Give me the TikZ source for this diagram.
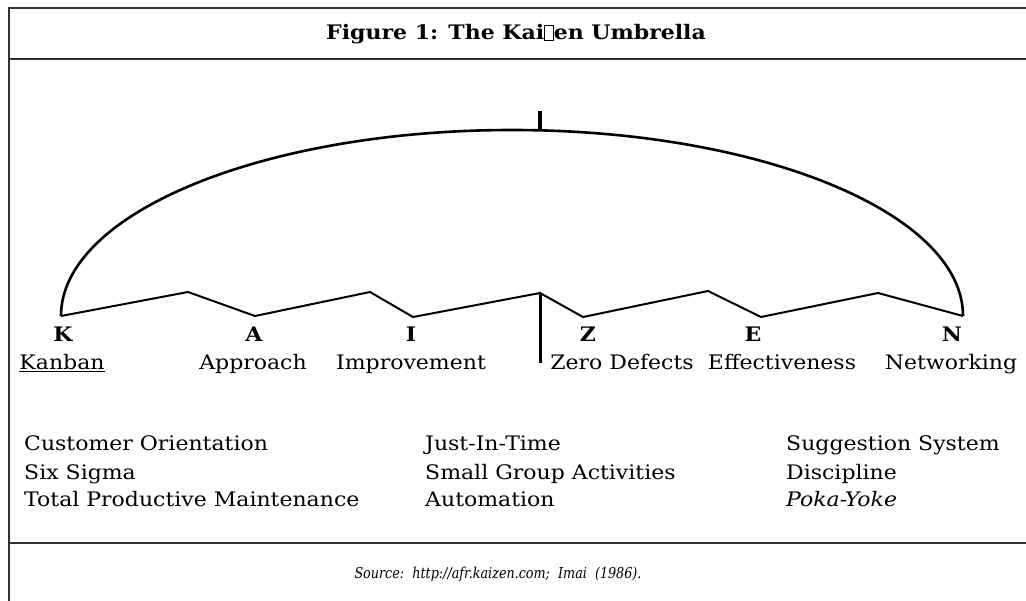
\documentclass[tikz,border=0pt]{standalone}
\usepackage{fontspec}
\setmainfont{DejaVu Serif}[FakeStretch=1.1]
\newfontfamily\sourcefont{DejaVu Serif}[FakeStretch=0.85]
\newcommand*{\tofubox}{{\setlength{\fboxsep}{0pt}\setlength{\fboxrule}{0.6pt}\fbox{\rule{0pt}{0.72em}\hspace{0.42em}}}}

\begin{document}
\begin{tikzpicture}[x=1pt,y=-1pt,
  every node/.style={inner sep=0pt},
  frameline/.style={draw=black!80,line width=1.4pt},
  rib/.style={line width=2pt,line join=miter},
  letter/.style={font=\fontsize{20}{24}\selectfont\bfseries,anchor=base},
  word/.style={font=\fontsize{20}{24}\selectfont,anchor=base},
  practice/.style={font=\fontsize{20}{24}\selectfont,anchor=base west},
  ]
  \useasboundingbox (0,0) rectangle (1026,601);

  % frame and title
  \draw[frameline] (1026,8) -- (9,8) -- (9,601);
  \draw[frameline] (9,59) -- (1026,59);
  \draw[frameline] (9,543) -- (1026,543);
  \node[font=\fontsize{20}{24}\selectfont\bfseries,anchor=base] (title) at (516,40)
    {Figure 1: The Kai\tofubox en Umbrella};

  % umbrella
  \coordinate (tipK) at (61,316);
  \coordinate (tipN) at (963,316);
  \coordinate (shaftTop) at (540,293);
  \coordinate (shaftEnd) at (540,363);
  \draw[line width=2.6pt] (tipK) arc[start angle=180,end angle=0,x radius=451pt,y radius=186pt];
  \draw[line width=4pt] (540,111) -- (540,131);
  \draw[rib] (tipK) -- (188,292) -- (255,316) -- (370,292) -- (413,317) -- (shaftTop)
    -- (583,317) -- (708,291) -- (761,317) -- (878,293) -- (tipN);
  \draw[line width=3pt] (shaftTop) -- (shaftEnd);

  % letters and words
  \node[letter] (K) at (63,342) {K};
  \node[letter] (A) at (254,342) {A};
  \node[letter] (I) at (411,342) {I};
  \node[letter] (Z) at (588,342) {Z};
  \node[letter] (E) at (753,342) {E};
  \node[letter] (N) at (952,342) {N};
  \node[word] (kanban) at (62,370) {\underline{Kanban}};
  \node[word] (approach) at (253,370) {Approach};
  \node[word] (improvement) at (411,370) {Improvement};
  \node[word] (zero) at (622,370) {Zero Defects};
  \node[word] (effect) at (782,370) {Effectiveness};
  \node[word] (network) at (951,370) {Networking};

  % practices
  \node[practice] (customer) at (24,451) {Customer Orientation};
  \node[practice] (sigma) at (24,479) {Six Sigma};
  \node[practice] (tpm) at (24,507) {Total Productive Maintenance};
  \node[practice] (jit) at (425,451) {Just-In-Time};
  \node[practice] (group) at (425,479) {Small Group Activities};
  \node[practice] (automation) at (425,507) {Automation};
  \node[practice] (suggestion) at (786,451) {Suggestion System};
  \node[practice] (discipline) at (786,479) {Discipline};
  \node[practice] (poka) at (786,507) {\itshape Poka-Yoke};

  % source
  \node[font=\fontsize{15}{18}\sourcefont\itshape,anchor=base] (source) at (498,578)
    {Source:\ \ http://afr.kaizen.com;\ \ Imai\ \ (1986).};
\end{tikzpicture}
\end{document}
